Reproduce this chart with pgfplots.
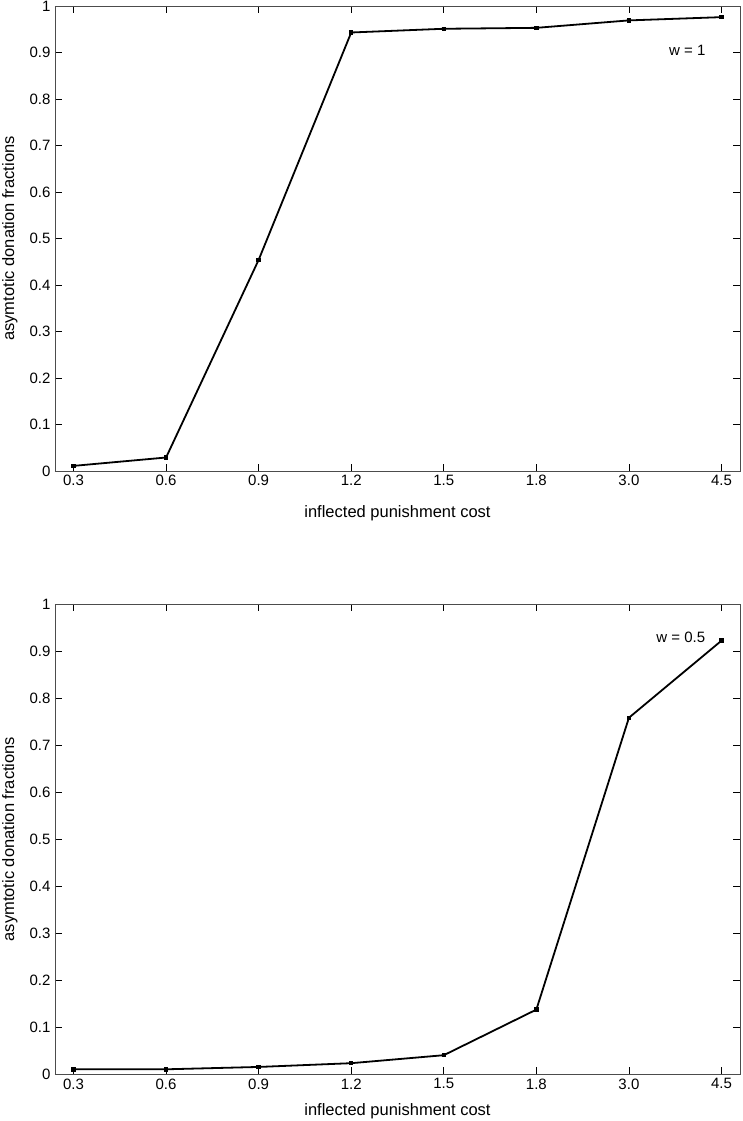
\documentclass[border=0pt]{standalone}
\usepackage{fontspec}
\setmainfont{Liberation Sans}
\usepackage{pgfplots}
\pgfplotsset{compat=1.18}

\pgfplotsset{
  panel/.style={
    scale only axis,
    width=685pt, height=466pt,
    anchor=south west,
    xmin=0.8, xmax=8.2,
    ymin=0, ymax=1,
    xtick={1,...,8},
    xticklabels={0.3,0.6,0.9,1.2,1.5,1.8,3.0,4.5},
    ytick={0,0.1,...,1},
    yticklabels={0,0.1,0.2,0.3,0.4,0.5,0.6,0.7,0.8,0.9,1},
    tick align=inside,
    major tick length=7pt,
    tick style={black, line width=0.6pt},
    axis line style={black!70, line width=0.8pt},
    tick label style={font=\fontsize{15}{17}\selectfont},
    label style={font=\fontsize{16.5}{18}\selectfont},
    /pgf/number format/assume math mode=true,
    xticklabel style={yshift=-1pt},
    yticklabel style={xshift=-1pt},
    xlabel={inflected punishment cost},
    ylabel={asymtotic donation fractions},
    ylabel style={at={(axis description cs:-0.066,0.5)}, anchor=center, rotate=0},
  },
  curve/.style={black, line width=1.8pt, mark=square*, mark size=1.3pt, mark options={black}},
}

\begin{document}
\begin{tikzpicture}
  % panel A
  \begin{axis}[panel, at={(0pt,603pt)}, height=465pt,
      xlabel style={at={(axis description cs:0.5,0)}, anchor=center, yshift=-42pt}]
    \addplot[curve] coordinates {
      (1,0.011) (2,0.029) (3,0.454) (4,0.943) (5,0.951) (6,0.953) (7,0.969) (8,0.976)};
    \node[font=\fontsize{15}{17}\selectfont] at (axis cs:7.63,0.905) {w = 1};
    \node[font=\fontsize{15}{17}\selectfont\bfseries] at (axis description cs:-0.067,0.95) {A};
  \end{axis}
  % panel B
  \begin{axis}[panel, at={(0pt,0pt)}, height=470pt,
      xlabel style={at={(axis description cs:0.5,0)}, anchor=center, yshift=-37pt}]
    \addplot[curve] coordinates {
      (1,0.010) (2,0.010) (3,0.015) (4,0.023) (5,0.040) (6,0.137) (7,0.758) (8,0.922)};
    \node[font=\fontsize{15}{17}\selectfont] at (axis cs:7.56,0.93) {w = 0.5};
    \node[font=\fontsize{15}{17}\selectfont\bfseries] at (axis description cs:-0.065,0.96) {B};
  \end{axis}
  \pgfresetboundingbox
  \path[use as bounding box] (-55pt,-47pt) rectangle (688pt,1074pt);
\end{tikzpicture}
\end{document}
